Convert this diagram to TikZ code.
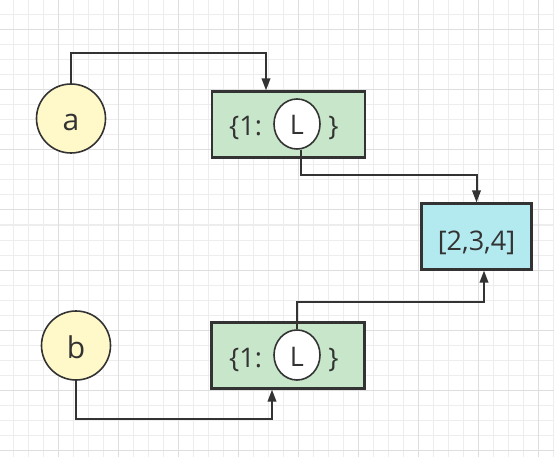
\documentclass[tikz,border=0pt]{standalone}
\usepackage{fontspec}
\setmainfont{Open Sans}
\usepackage{tikz}
\usetikzlibrary{arrows.meta,shapes.geometric}

\definecolor{ink}{HTML}{333333}
\definecolor{gridminor}{HTML}{EDEDED}
\definecolor{gridmajor}{HTML}{DEDEDE}
\definecolor{varfill}{HTML}{FFF8C9}
\definecolor{dictfill}{HTML}{C8E6C9}
\definecolor{listfill}{HTML}{B2EAF0}

\begin{document}
\begin{tikzpicture}[x=1pt, y=-1pt, >={Triangle[length=12pt,width=8.5pt]},
  var/.style={draw=ink, line width=1.6pt, circle, fill=varfill, minimum size=69pt, inner sep=0pt,
    text=ink, text height=25pt, text depth=0pt, font=\fontsize{30}{34}\selectfont},
  dictbox/.style={draw=ink, line width=2.2pt, fill=dictfill, minimum width=153pt, minimum height=66pt},
  ref/.style={draw=ink, line width=1.6pt, ellipse, fill=white, minimum width=46pt, minimum height=50pt,
    inner sep=0pt, text=ink, text height=22pt, text depth=0pt, font=\fontsize{27}{30}\selectfont},
  listbox/.style={draw=ink, line width=2.2pt, fill=listfill, minimum width=110pt, minimum height=66pt,
    text=ink, text height=27pt, text depth=0pt, font=\fontsize{27}{30}\selectfont},
  word/.style={anchor=base, inner sep=0pt, text=ink, font=\fontsize{27}{30}\selectfont},
  link/.style={->, draw=ink, line width=2pt}]
\useasboundingbox (0,0) rectangle (554,457);
\fill[white] (0,0) rectangle (554,457);
% grid
\foreach \i in {0,...,36} \draw[gridminor, line width=1pt] ({13.33+15*\i},0) -- ++(0,457);
\foreach \i in {0,...,30} \draw[gridminor, line width=1pt] (0,{15*\i}) -- ++(554,0);
\foreach \i in {0,...,8} \draw[gridmajor, line width=1pt] ({58.33+60*\i},0) -- ++(0,457);
\foreach \i in {0,...,7} \draw[gridmajor, line width=1pt] (0,{30+60*\i}) -- ++(554,0);

\node [var] (a) at (71,118.5) {a};
\node [var] (b) at (76,345.5) {b};
\node [dictbox] (d1) at (288.5,124.5) {};
\node [dictbox] (d2) at (288,355.5) {};
\node [ref] (l1) at (297,124) {L};
\node [ref] (l2) at (297,355) {L};
\node [word] (o1) at (245.5,136) {\{1:};
\node [word] (c1) at (333.5,136) {\}};
\node [word] (o2) at (245.5,367) {\{1:};
\node [word] (c2) at (333.5,367) {\}};
\node [listbox] (lst) at (476.5,236.5) {[2,3,4]};

\draw [link] (a.north) -- ++(0,-30) -| ([xshift=-22.5pt]d1.north);
\draw [link] ([xshift=4pt]l1.south) -- ++(0,25) -| (lst.north);
\draw [link] (l2.north) -- ++(0,-27) -| ([xshift=7.5pt]lst.south);
\draw [link] (b.south) -- ++(0,38) -| ([xshift=-16pt]d2.south);
\end{tikzpicture}
\end{document}
